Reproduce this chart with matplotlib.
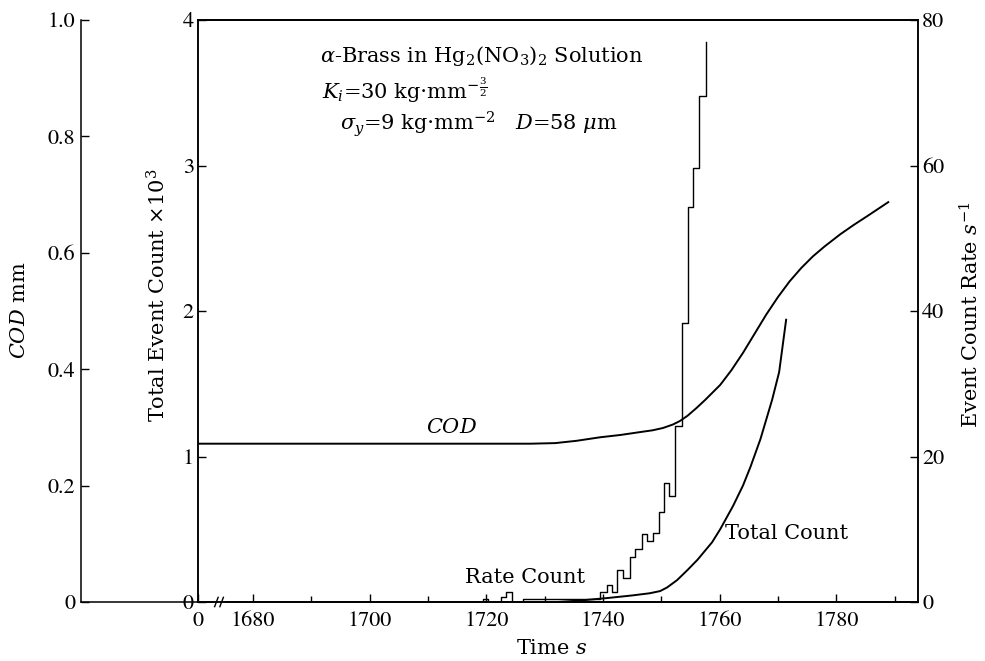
import matplotlib
matplotlib.use("Agg")
import matplotlib.pyplot as plt

plt.rcParams['font.family'] = ['DejaVu Serif']
plt.rcParams['mathtext.fontset'] = 'dejavuserif'

# time axis (s) and readings from the figure
cod_t = [1670.6, 1727.5, 1731.8, 1735.5, 1739.5, 1743.0, 1746.4, 1748.5, 1750.3, 1752.0,
         1753.2, 1754.5, 1756.0, 1757.5, 1759.0, 1760.1, 1762.0, 1764.0, 1766.0, 1768.0,
         1770.0, 1772.0, 1774.0, 1776.0, 1778.0, 1780.7, 1783.0, 1785.3, 1788.9]
cod_v = [0.272, 0.272, 0.273, 0.277, 0.283, 0.287, 0.292, 0.295, 0.299, 0.305,
         0.311, 0.320, 0.333, 0.347, 0.362, 0.373, 0.398, 0.428, 0.461, 0.494,
         0.524, 0.551, 0.574, 0.594, 0.611, 0.632, 0.648, 0.663, 0.687]

tot_t = [1732.3, 1736.0, 1740.7, 1745.0, 1748.0, 1749.8, 1751.0, 1752.7, 1754.5, 1756.2,
         1758.7, 1760.1, 1762.3, 1764.0, 1765.3, 1767.0, 1769.0, 1770.2, 1771.4]
tot_v = [0.0, 0.01, 0.027, 0.045, 0.06, 0.075, 0.10, 0.15, 0.22, 0.29,
         0.41, 0.50, 0.66, 0.80, 0.93, 1.12, 1.39, 1.58, 1.94]

rate_t = [1715.0, 1719.4, 1720.3, 1722.5, 1723.4, 1724.4, 1726.3, 1739.5, 1740.7, 1741.6,
          1742.4, 1743.5, 1744.7, 1745.5, 1746.7, 1747.6, 1748.6, 1749.6, 1750.5,
          1751.4, 1752.4, 1753.6, 1754.6, 1755.5, 1756.5, 1757.7]
rate_v = [0.0, 0.4, 0.0, 0.7, 1.4, 0.0, 0.4, 1.4, 2.3, 1.4,
          4.4, 3.3, 6.2, 7.3, 9.4, 8.4, 9.5, 12.4, 16.4,
          14.6, 24.2, 38.4, 54.3, 59.7, 69.6, 77.0]

x_major = [1680, 1700, 1720, 1740, 1760, 1780]
x_minor = [1690, 1710, 1730, 1750, 1770, 1790]
t_start = 1670.6
t_end = 1794.0
t_break = 1674.2

W, H = 985, 661
tick_font = {'family': 'STIXGeneral', 'size': 16}

fig = plt.figure(figsize=(W / 100, H / 100), dpi=100)
ax = fig.add_axes([198 / W, 1 - 602 / H, 720 / W, 582 / H])
ax_rate = ax.twinx()
ax_cod = ax.twinx()

lw_sp = 1.1
for a in (ax, ax_rate, ax_cod):
    for s in a.spines.values():
        s.set_linewidth(lw_sp)

# total count (left axis)
ax.plot(tot_t, tot_v, color='black', lw=1.4)
ax.set_xlim(t_start, t_end)
ax.set_ylim(0, 4)
ax.set_yticks([0, 1, 2, 3, 4])
ax.set_yticklabels(['0', '1', '2', '3', '4'], fontdict=tick_font)
ax.set_xticks([t_start] + x_major)
ax.set_xticklabels(['0'] + [str(v) for v in x_major], fontdict=tick_font)
ax.set_xticks(x_minor, minor=True)
ax.tick_params(axis='both', which='major', direction='in', length=6, width=1, pad=3)
ax.tick_params(axis='x', which='major', pad=7)
ax.tick_params(axis='x', which='minor', direction='in', length=4, width=1)

# rate count (right axis)
ax_rate.plot(rate_t, rate_v, color='black', lw=1.0, drawstyle='steps-post')
ax_rate.set_ylim(0, 80)
ax_rate.set_yticks([0, 20, 40, 60, 80])
ax_rate.set_yticklabels(['0', '20', '40', '60', '80'], fontdict=tick_font)
ax_rate.tick_params(axis='y', direction='in', length=6, width=1, pad=3)

# COD (outer left axis)
ax_cod.plot(cod_t, cod_v, color='black', lw=1.4)
ax_cod.set_ylim(0, 1)
ax_cod.spines['right'].set_visible(False)
ax_cod.spines['left'].set_visible(True)
ax_cod.spines['left'].set_position(('axes', -117 / 720))
ax_cod.yaxis.set_ticks_position('left')
ax_cod.set_yticks([0, 0.2, 0.4, 0.6, 0.8, 1.0])
ax_cod.set_yticklabels(['0', '0.2', '0.4', '0.6', '0.8', '1.0'], fontdict=tick_font)
ax_cod.tick_params(axis='y', direction='in', length=6, width=1, pad=4)
ax.plot([-117 / 720, 0], [0, 0], transform=ax.transAxes, color='black', lw=lw_sp, clip_on=False)

# axis break mark
xt = ax.get_xaxis_transform()
ax.plot([t_break - 0.6, t_break + 0.6], [0, 0], transform=xt, color='white', lw=3, clip_on=False, zorder=5)
for dx in (-0.45, 0.45):
    ax.plot([t_break + dx - 0.3, t_break + dx + 0.3], [-0.008, 0.008], transform=xt,
            color='black', lw=1, clip_on=False, zorder=6)

# axis titles
fig.text(20 / W, 1 - 310 / H, r'$COD$ mm', rotation=90, ha='center', va='center', fontsize=15)
fig.text(158 / W, 1 - 295 / H, r'Total Event Count $\times10^3$', rotation=90, ha='center', va='center', fontsize=15)
fig.text(971 / W, 1 - 315 / H, r'Event Count Rate $s^{-1}$', rotation=90, ha='center', va='center', fontsize=15)
fig.text(552 / W, 1 - 648 / H, r'Time $s$', ha='center', va='center', fontsize=15)

# curve labels
ax.text(1714.1, 1.20, r'$COD$', fontsize=15, ha='center', va='center')
ax.text(1726.6, 0.165, 'Rate Count', fontsize=15, ha='center', va='center')
ax.text(1761.0, 0.474, 'Total Count', fontsize=15, ha='left', va='center')

fig.text(320 / W, 1 - 56 / H, r'$\alpha$-Brass in Hg$_2$(NO$_3$)$_2$ Solution', fontsize=15, va='center')
fig.text(322 / W, 1 - 90 / H, r'$K_i$=30 kg$\cdot$mm$^{-\frac{3}{2}}$', fontsize=15, va='center')
fig.text(340 / W, 1 - 124 / H, r'$\sigma_y$=9 kg$\cdot$mm$^{-2}$   $D$=58 $\mu$m', fontsize=15, va='center')

fig.savefig('out.png', dpi=100)
